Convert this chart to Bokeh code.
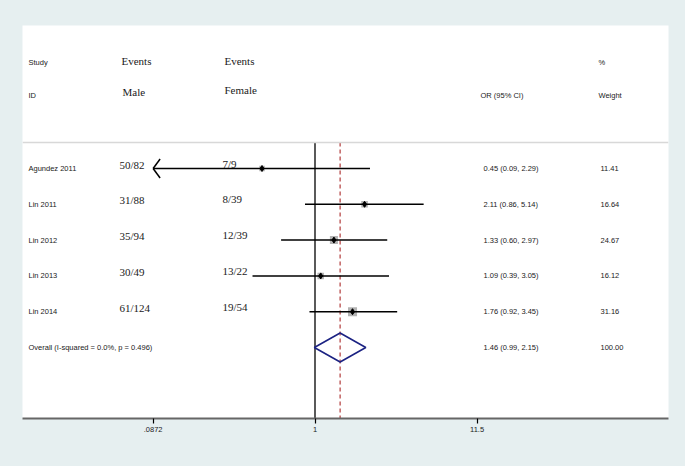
import numpy as np
from bokeh.plotting import figure
from bokeh.models import (Range1d, LinearScale, FixedTicker, ColumnDataSource,
                          Span, GlobalInlineStyleSheet)
from bokeh.core.properties import value
from bokeh.embed import file_html
from bokeh.resources import INLINE

# ---------------- data ----------------
studies = ["Agundez 2011", "Lin 2011", "Lin 2012", "Lin 2013", "Lin  2014"]
male_events = [50, 31, 35, 30, 61]
male_total = [82, 88, 94, 49, 124]
female_events = [7, 8, 12, 13, 19]
female_total = [9, 39, 39, 22, 54]
odds_ratio = [0.45, 2.11, 1.33, 1.09, 1.76]
ci_low = [0.09, 0.86, 0.60, 0.39, 0.92]
ci_high = [2.29, 5.14, 2.97, 3.05, 3.45]
weights = [11.41, 16.64, 24.67, 16.12, 31.16]

overall_label = "Overall  (I-squared = 0.0%, p = 0.496)"
overall_or = 1.46
overall_low = 0.99
overall_high = 2.15
overall_weight = 100.00

x_ticks = [0.0872, 1, 11.5]
x_tick_labels = [".0872", "1", "11.5"]

# ---------------- layout constants ----------------
BG = "#e6eff0"
SANS = value("Liberation Sans")
SERIF = value("Liberation Serif")
ROW_PX = 35.8          # pixel spacing between rows
FIRST_ROW_PX = 168     # page y of first study row
TOP_PX, BOT_PX = 25, 418
LEFT_PX, RIGHT_PX = 22, 668
ONE_PX = 314.5
PX_PER_DECADE = 152.8
PAGE_W, PAGE_H = 685, 466


def row_of(py):
    return 1 + (py - FIRST_ROW_PX) / ROW_PX


y_top = row_of(TOP_PX)
y_bot = row_of(BOT_PX)
x_lo = 10 ** ((LEFT_PX - ONE_PX) / PX_PER_DECADE)
x_hi = 10 ** ((RIGHT_PX - ONE_PX) / PX_PER_DECADE)

n = len(studies)
rows = np.arange(1, n + 1)
overall_row = n + 1
sep_row = row_of(142)

p = figure(x_axis_type="log", x_range=Range1d(x_lo, x_hi),
           y_range=Range1d(y_bot, y_top),
           frame_width=RIGHT_PX - LEFT_PX, frame_height=BOT_PX - TOP_PX,
           min_border_left=LEFT_PX, min_border_right=PAGE_W - RIGHT_PX,
           min_border_top=TOP_PX, min_border_bottom=PAGE_H - BOT_PX,
           output_backend="svg", toolbar_location=None,
           background_fill_color="white", border_fill_color=BG,
           outline_line_color=None)
p.stylesheets = [GlobalInlineStyleSheet(css=f"body{{background:{BG};}}")]
p.extra_x_ranges = {"px": Range1d(LEFT_PX, RIGHT_PX)}
p.extra_x_scales = {"px": LinearScale()}
p.yaxis.visible = False
p.xgrid.visible = False
p.ygrid.visible = False

ax = p.xaxis[0]
ax.ticker = FixedTicker(ticks=x_ticks, minor_ticks=[])
ax.major_label_overrides = {t: l for t, l in zip(x_ticks, x_tick_labels)}
ax.axis_line_color = "#666666"
ax.axis_line_width = 2
ax.major_tick_line_color = "black"
ax.major_tick_line_width = 1.2
ax.major_tick_out = 5
ax.major_tick_in = 0
ax.minor_tick_out = 0
ax.minor_tick_in = 0
ax.major_label_standoff = 3
ax.major_label_text_font = "Liberation Sans"
ax.major_label_text_font_size = "7.5px"
ax.major_label_text_color = "#222222"

# separator line
p.add_layout(Span(location=sep_row, dimension="width", line_color="#d8d8d8",
                  line_width=1.5))

# null line and overall line
p.segment(x0=[1], y0=[sep_row], x1=[1], y1=[y_bot], line_color="black",
          line_width=1.3)
p.segment(x0=[overall_or], y0=[sep_row], x1=[overall_or], y1=[y_bot],
          line_color="#b23a3a", line_width=1.2, line_dash="4 3")

# confidence intervals (clipped at the axis minimum with an arrow)
axis_min = x_ticks[0]
lo = np.array(ci_low)
arrow = lo <= axis_min * 1.05
lo_draw = np.where(arrow, axis_min, lo)
src = ColumnDataSource(dict(row=rows, orr=odds_ratio, lo=lo_draw, hi=ci_high,
                            size=1.62 * np.sqrt(weights)))
p.scatter(x="orr", y="row", size="size", marker="square", source=src,
          fill_color="#b3b3b3", line_color=None)
p.segment(x0="lo", y0="row", x1="hi", y1="row", source=src,
          line_color="black", line_width=1.5)
p.scatter(x="orr", y="row", size=6, marker="diamond", source=src,
          fill_color="black", line_color="black")

# arrow heads
arm_dx = 10 ** (7 / PX_PER_DECADE)
arm_dy = 9.5 / ROW_PX
ar_rows = rows[arrow]
ar_x = lo_draw[arrow]
p.segment(x0=np.concatenate([ar_x, ar_x]),
          y0=np.concatenate([ar_rows, ar_rows]),
          x1=np.concatenate([ar_x * arm_dx, ar_x * arm_dx]),
          y1=np.concatenate([ar_rows - arm_dy, ar_rows + arm_dy]),
          line_color="black", line_width=1.5)

# overall diamond
h = 14.5 / ROW_PX
p.patch(x=[overall_low, overall_or, overall_high, overall_or],
        y=[overall_row, overall_row - h, overall_row, overall_row + h],
        fill_color=None, line_color="#1c2383", line_width=1.6)

# ---------------- texts ----------------
sans_kw = dict(x_range_name="px", text_font=SANS, text_font_size="7.5px",
               text_baseline="middle", text_align="left", text_color="#1a1a1a")
serif_kw = dict(x_range_name="px", text_font=SERIF, text_font_size="11px",
                text_baseline="middle", text_align="left", text_color="#1a1a1a")

head1 = row_of(62)
head2 = row_of(95)
p.text(x=[28, 598], y=[head1, head1], text=["Study", "%"], **sans_kw)
p.text(x=[28, 480, 598], y=[head2, head2, head2],
       text=["ID", "OR (95% CI)", "Weight"], **sans_kw)
p.text(x=[121, 224], y=[head1, head1], text=["Events", "Events"],
       y_offset=-2, **serif_kw)
p.text(x=[122], y=[head2], text=["Male"], y_offset=-4, **serif_kw)
p.text(x=[224], y=[head2], text=["Female"], y_offset=-6, **serif_kw)

all_rows = list(rows) + [overall_row]
p.text(x=[28] * (n + 1), y=all_rows, text=studies + [overall_label], **sans_kw)
or_txt = [f"{o:.2f} ({l:.2f}, {u:.2f})" for o, l, u in zip(odds_ratio, ci_low, ci_high)]
or_txt.append(f"{overall_or:.2f} ({overall_low:.2f}, {overall_high:.2f})")
p.text(x=[483] * (n + 1), y=all_rows, text=or_txt, **sans_kw)
w_txt = [f"{w:.2f}" for w in weights] + [f"{overall_weight:.2f}"]
p.text(x=[600] * (n + 1), y=all_rows, text=w_txt, **sans_kw)

male_txt = [f"{e}/{t}" for e, t in zip(male_events, male_total)]
female_txt = [f"{e}/{t}" for e, t in zip(female_events, female_total)]
p.text(x=[119] * n, y=list(rows), text=male_txt, y_offset=-4, **serif_kw)
p.text(x=[222] * n, y=list(rows), text=female_txt, y_offset=-5, **serif_kw)

open("out.html", "w").write(file_html(p, INLINE))
